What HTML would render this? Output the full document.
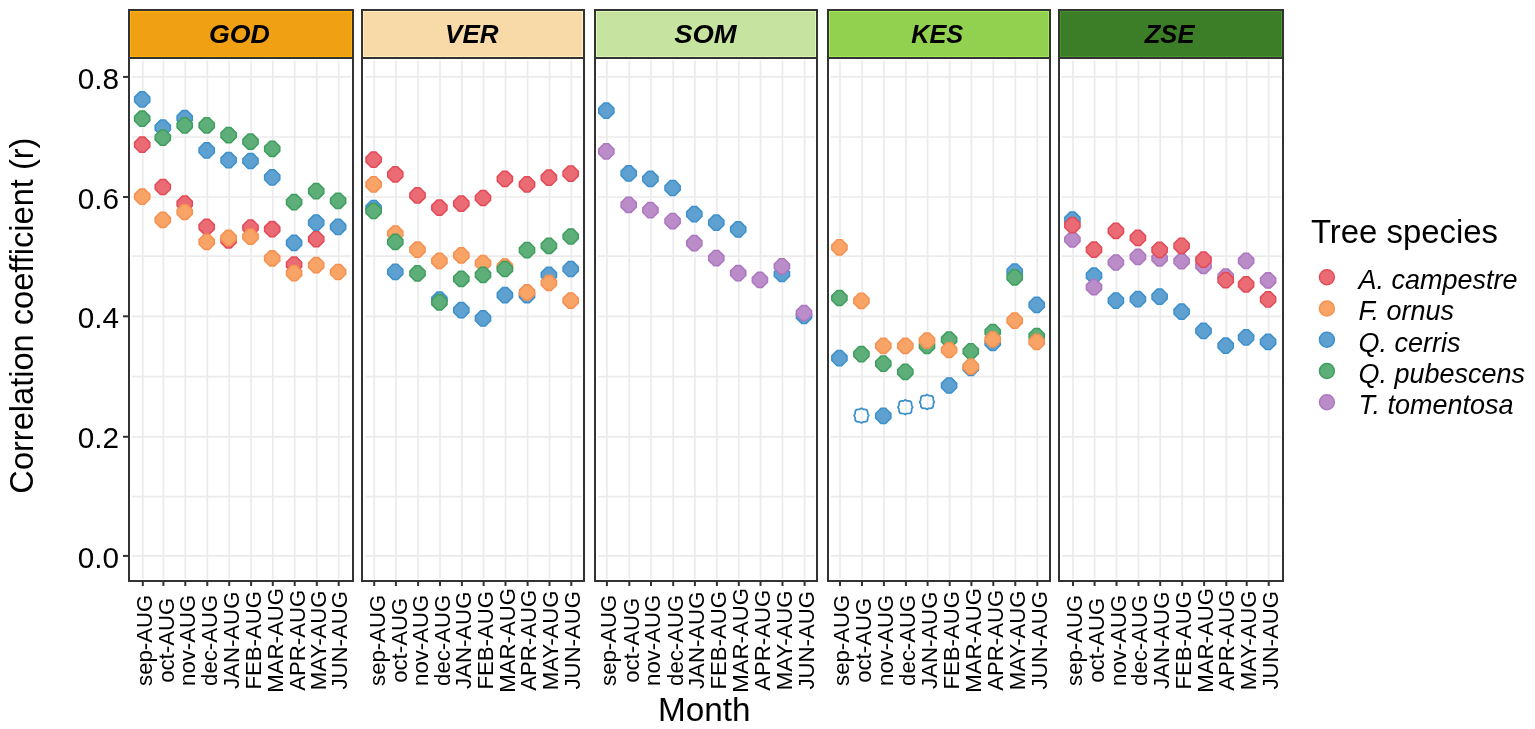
<!DOCTYPE html>
<html><head><meta charset="utf-8"><title>Correlation coefficient by month</title>
<style>html,body{margin:0;padding:0;background:#fff;}body{width:1535px;height:729px;overflow:hidden;}svg{display:block;}text{font-family:"Liberation Sans", Arial, sans-serif;}</style></head><body>
<svg width="1535" height="729" viewBox="0 0 1535 729">
<rect x="0" y="0" width="1535" height="729" fill="#fff"/>
<line x1="132.0" y1="555.90" x2="351.0" y2="555.90" stroke="#EBEBEB" stroke-width="1.7"/>
<line x1="132.0" y1="496.70" x2="351.0" y2="496.70" stroke="#EBEBEB" stroke-width="1.7"/>
<line x1="132.0" y1="436.80" x2="351.0" y2="436.80" stroke="#EBEBEB" stroke-width="1.7"/>
<line x1="132.0" y1="376.60" x2="351.0" y2="376.60" stroke="#EBEBEB" stroke-width="1.7"/>
<line x1="132.0" y1="316.30" x2="351.0" y2="316.30" stroke="#EBEBEB" stroke-width="1.7"/>
<line x1="132.0" y1="256.10" x2="351.0" y2="256.10" stroke="#EBEBEB" stroke-width="1.7"/>
<line x1="132.0" y1="197.00" x2="351.0" y2="197.00" stroke="#EBEBEB" stroke-width="1.7"/>
<line x1="132.0" y1="137.00" x2="351.0" y2="137.00" stroke="#EBEBEB" stroke-width="1.7"/>
<line x1="132.0" y1="76.90" x2="351.0" y2="76.90" stroke="#EBEBEB" stroke-width="1.7"/>
<line x1="142.80" y1="60.5" x2="142.80" y2="579.0" stroke="#EBEBEB" stroke-width="1.7"/>
<line x1="163.40" y1="60.5" x2="163.40" y2="579.0" stroke="#EBEBEB" stroke-width="1.7"/>
<line x1="185.30" y1="60.5" x2="185.30" y2="579.0" stroke="#EBEBEB" stroke-width="1.7"/>
<line x1="207.30" y1="60.5" x2="207.30" y2="579.0" stroke="#EBEBEB" stroke-width="1.7"/>
<line x1="229.20" y1="60.5" x2="229.20" y2="579.0" stroke="#EBEBEB" stroke-width="1.7"/>
<line x1="251.10" y1="60.5" x2="251.10" y2="579.0" stroke="#EBEBEB" stroke-width="1.7"/>
<line x1="272.80" y1="60.5" x2="272.80" y2="579.0" stroke="#EBEBEB" stroke-width="1.7"/>
<line x1="294.70" y1="60.5" x2="294.70" y2="579.0" stroke="#EBEBEB" stroke-width="1.7"/>
<line x1="316.80" y1="60.5" x2="316.80" y2="579.0" stroke="#EBEBEB" stroke-width="1.7"/>
<line x1="338.70" y1="60.5" x2="338.70" y2="579.0" stroke="#EBEBEB" stroke-width="1.7"/>
<polygon points="144.48,137.10 149.80,142.42 149.80,146.98 144.48,152.30 139.92,152.30 134.60,146.98 134.60,142.42 139.92,137.10" fill="#EA6B74" stroke="#E34A57" stroke-width="1.50"/>
<polygon points="165.08,179.40 170.40,184.72 170.40,189.28 165.08,194.60 160.52,194.60 155.20,189.28 155.20,184.72 160.52,179.40" fill="#EA6B74" stroke="#E34A57" stroke-width="1.50"/>
<polygon points="186.98,196.10 192.30,201.42 192.30,205.98 186.98,211.30 182.42,211.30 177.10,205.98 177.10,201.42 182.42,196.10" fill="#EA6B74" stroke="#E34A57" stroke-width="1.50"/>
<polygon points="208.98,219.20 214.30,224.52 214.30,229.08 208.98,234.40 204.42,234.40 199.10,229.08 199.10,224.52 204.42,219.20" fill="#EA6B74" stroke="#E34A57" stroke-width="1.50"/>
<polygon points="230.88,232.80 236.20,238.12 236.20,242.68 230.88,248.00 226.32,248.00 221.00,242.68 221.00,238.12 226.32,232.80" fill="#EA6B74" stroke="#E34A57" stroke-width="1.50"/>
<polygon points="252.78,220.00 258.10,225.32 258.10,229.88 252.78,235.20 248.22,235.20 242.90,229.88 242.90,225.32 248.22,220.00" fill="#EA6B74" stroke="#E34A57" stroke-width="1.50"/>
<polygon points="274.48,221.60 279.80,226.92 279.80,231.48 274.48,236.80 269.92,236.80 264.60,231.48 264.60,226.92 269.92,221.60" fill="#EA6B74" stroke="#E34A57" stroke-width="1.50"/>
<polygon points="296.38,257.00 301.70,262.32 301.70,266.88 296.38,272.20 291.82,272.20 286.50,266.88 286.50,262.32 291.82,257.00" fill="#EA6B74" stroke="#E34A57" stroke-width="1.50"/>
<polygon points="318.48,231.50 323.80,236.82 323.80,241.38 318.48,246.70 313.92,246.70 308.60,241.38 308.60,236.82 313.92,231.50" fill="#EA6B74" stroke="#E34A57" stroke-width="1.50"/>
<polygon points="144.48,189.10 149.80,194.42 149.80,198.98 144.48,204.30 139.92,204.30 134.60,198.98 134.60,194.42 139.92,189.10" fill="#F8A467" stroke="#F59050" stroke-width="1.50"/>
<polygon points="165.08,212.30 170.40,217.62 170.40,222.18 165.08,227.50 160.52,227.50 155.20,222.18 155.20,217.62 160.52,212.30" fill="#F8A467" stroke="#F59050" stroke-width="1.50"/>
<polygon points="186.98,204.40 192.30,209.72 192.30,214.28 186.98,219.60 182.42,219.60 177.10,214.28 177.10,209.72 182.42,204.40" fill="#F8A467" stroke="#F59050" stroke-width="1.50"/>
<polygon points="208.98,234.30 214.30,239.62 214.30,244.18 208.98,249.50 204.42,249.50 199.10,244.18 199.10,239.62 204.42,234.30" fill="#F8A467" stroke="#F59050" stroke-width="1.50"/>
<polygon points="230.88,230.20 236.20,235.52 236.20,240.08 230.88,245.40 226.32,245.40 221.00,240.08 221.00,235.52 226.32,230.20" fill="#F8A467" stroke="#F59050" stroke-width="1.50"/>
<polygon points="252.78,229.10 258.10,234.42 258.10,238.98 252.78,244.30 248.22,244.30 242.90,238.98 242.90,234.42 248.22,229.10" fill="#F8A467" stroke="#F59050" stroke-width="1.50"/>
<polygon points="274.48,250.80 279.80,256.12 279.80,260.68 274.48,266.00 269.92,266.00 264.60,260.68 264.60,256.12 269.92,250.80" fill="#F8A467" stroke="#F59050" stroke-width="1.50"/>
<polygon points="296.38,265.60 301.70,270.92 301.70,275.48 296.38,280.80 291.82,280.80 286.50,275.48 286.50,270.92 291.82,265.60" fill="#F8A467" stroke="#F59050" stroke-width="1.50"/>
<polygon points="318.48,257.50 323.80,262.82 323.80,267.38 318.48,272.70 313.92,272.70 308.60,267.38 308.60,262.82 313.92,257.50" fill="#F8A467" stroke="#F59050" stroke-width="1.50"/>
<polygon points="340.38,264.40 345.70,269.72 345.70,274.28 340.38,279.60 335.82,279.60 330.50,274.28 330.50,269.72 335.82,264.40" fill="#F8A467" stroke="#F59050" stroke-width="1.50"/>
<polygon points="144.48,91.80 149.80,97.12 149.80,101.68 144.48,107.00 139.92,107.00 134.60,101.68 134.60,97.12 139.92,91.80" fill="#5EA1D0" stroke="#3D90CC" stroke-width="1.50"/>
<polygon points="165.08,120.10 170.40,125.42 170.40,129.98 165.08,135.30 160.52,135.30 155.20,129.98 155.20,125.42 160.52,120.10" fill="#5EA1D0" stroke="#3D90CC" stroke-width="1.50"/>
<polygon points="186.98,110.60 192.30,115.92 192.30,120.48 186.98,125.80 182.42,125.80 177.10,120.48 177.10,115.92 182.42,110.60" fill="#5EA1D0" stroke="#3D90CC" stroke-width="1.50"/>
<polygon points="208.98,142.80 214.30,148.12 214.30,152.68 208.98,158.00 204.42,158.00 199.10,152.68 199.10,148.12 204.42,142.80" fill="#5EA1D0" stroke="#3D90CC" stroke-width="1.50"/>
<polygon points="230.88,152.60 236.20,157.92 236.20,162.48 230.88,167.80 226.32,167.80 221.00,162.48 221.00,157.92 226.32,152.60" fill="#5EA1D0" stroke="#3D90CC" stroke-width="1.50"/>
<polygon points="252.78,153.40 258.10,158.72 258.10,163.28 252.78,168.60 248.22,168.60 242.90,163.28 242.90,158.72 248.22,153.40" fill="#5EA1D0" stroke="#3D90CC" stroke-width="1.50"/>
<polygon points="274.48,169.80 279.80,175.12 279.80,179.68 274.48,185.00 269.92,185.00 264.60,179.68 264.60,175.12 269.92,169.80" fill="#5EA1D0" stroke="#3D90CC" stroke-width="1.50"/>
<polygon points="296.38,235.30 301.70,240.62 301.70,245.18 296.38,250.50 291.82,250.50 286.50,245.18 286.50,240.62 291.82,235.30" fill="#5EA1D0" stroke="#3D90CC" stroke-width="1.50"/>
<polygon points="318.48,215.10 323.80,220.42 323.80,224.98 318.48,230.30 313.92,230.30 308.60,224.98 308.60,220.42 313.92,215.10" fill="#5EA1D0" stroke="#3D90CC" stroke-width="1.50"/>
<polygon points="340.38,219.20 345.70,224.52 345.70,229.08 340.38,234.40 335.82,234.40 330.50,229.08 330.50,224.52 335.82,219.20" fill="#5EA1D0" stroke="#3D90CC" stroke-width="1.50"/>
<polygon points="144.48,111.10 149.80,116.42 149.80,120.98 144.48,126.30 139.92,126.30 134.60,120.98 134.60,116.42 139.92,111.10" fill="#5DAE78" stroke="#3E9E5E" stroke-width="1.50"/>
<polygon points="165.08,130.00 170.40,135.32 170.40,139.88 165.08,145.20 160.52,145.20 155.20,139.88 155.20,135.32 160.52,130.00" fill="#5DAE78" stroke="#3E9E5E" stroke-width="1.50"/>
<polygon points="186.98,117.70 192.30,123.02 192.30,127.58 186.98,132.90 182.42,132.90 177.10,127.58 177.10,123.02 182.42,117.70" fill="#5DAE78" stroke="#3E9E5E" stroke-width="1.50"/>
<polygon points="208.98,117.70 214.30,123.02 214.30,127.58 208.98,132.90 204.42,132.90 199.10,127.58 199.10,123.02 204.42,117.70" fill="#5DAE78" stroke="#3E9E5E" stroke-width="1.50"/>
<polygon points="230.88,127.50 236.20,132.82 236.20,137.38 230.88,142.70 226.32,142.70 221.00,137.38 221.00,132.82 226.32,127.50" fill="#5DAE78" stroke="#3E9E5E" stroke-width="1.50"/>
<polygon points="252.78,134.10 258.10,139.42 258.10,143.98 252.78,149.30 248.22,149.30 242.90,143.98 242.90,139.42 248.22,134.10" fill="#5DAE78" stroke="#3E9E5E" stroke-width="1.50"/>
<polygon points="274.48,141.20 279.80,146.52 279.80,151.08 274.48,156.40 269.92,156.40 264.60,151.08 264.60,146.52 269.92,141.20" fill="#5DAE78" stroke="#3E9E5E" stroke-width="1.50"/>
<polygon points="296.38,194.50 301.70,199.82 301.70,204.38 296.38,209.70 291.82,209.70 286.50,204.38 286.50,199.82 291.82,194.50" fill="#5DAE78" stroke="#3E9E5E" stroke-width="1.50"/>
<polygon points="318.48,183.50 323.80,188.82 323.80,193.38 318.48,198.70 313.92,198.70 308.60,193.38 308.60,188.82 313.92,183.50" fill="#5DAE78" stroke="#3E9E5E" stroke-width="1.50"/>
<polygon points="340.38,193.20 345.70,198.52 345.70,203.08 340.38,208.40 335.82,208.40 330.50,203.08 330.50,198.52 335.82,193.20" fill="#5DAE78" stroke="#3E9E5E" stroke-width="1.50"/>
<rect x="129.0" y="58.0" width="224.0" height="523.0" fill="none" stroke="#333333" stroke-width="2"/>
<rect x="129.0" y="10.0" width="224.0" height="48.0" fill="#F0A113" stroke="#333333" stroke-width="2"/>
<rect x="130.5" y="11.5" width="221.0" height="45.0" fill="none" stroke="#FFB60A" stroke-width="1" opacity="0.8"/>
<text transform="translate(239.40,42.8) scale(1.030,1)" text-anchor="middle" font-size="26" font-weight="bold" font-style="italic" fill="#000">GOD</text>
<line x1="142.80" y1="581.0" x2="142.80" y2="586.0" stroke="#333333" stroke-width="2"/>
<text transform="translate(151.70,640.3) rotate(-90) scale(1,1.035)" text-anchor="middle" font-size="22.2" fill="#000">sep-AUG</text>
<line x1="163.40" y1="581.0" x2="163.40" y2="586.0" stroke="#333333" stroke-width="2"/>
<text transform="translate(173.50,640.3) rotate(-90) scale(1,1.035)" text-anchor="middle" font-size="22.2" fill="#000">oct-AUG</text>
<line x1="185.30" y1="581.0" x2="185.30" y2="586.0" stroke="#333333" stroke-width="2"/>
<text transform="translate(195.20,640.3) rotate(-90) scale(1,1.035)" text-anchor="middle" font-size="22.2" fill="#000">nov-AUG</text>
<line x1="207.30" y1="581.0" x2="207.30" y2="586.0" stroke="#333333" stroke-width="2"/>
<text transform="translate(217.20,640.3) rotate(-90) scale(1,1.035)" text-anchor="middle" font-size="22.2" fill="#000">dec-AUG</text>
<line x1="229.20" y1="581.0" x2="229.20" y2="586.0" stroke="#333333" stroke-width="2"/>
<text transform="translate(238.90,640.3) rotate(-90) scale(1,1.035)" text-anchor="middle" font-size="22.2" fill="#000">JAN-AUG</text>
<line x1="251.10" y1="581.0" x2="251.10" y2="586.0" stroke="#333333" stroke-width="2"/>
<text transform="translate(260.70,640.3) rotate(-90) scale(1,1.035)" text-anchor="middle" font-size="22.2" fill="#000">FEB-AUG</text>
<line x1="272.80" y1="581.0" x2="272.80" y2="586.0" stroke="#333333" stroke-width="2"/>
<text transform="translate(282.50,640.3) rotate(-90) scale(1,1.035)" text-anchor="middle" font-size="22.2" fill="#000">MAR-AUG</text>
<line x1="294.70" y1="581.0" x2="294.70" y2="586.0" stroke="#333333" stroke-width="2"/>
<text transform="translate(304.60,640.3) rotate(-90) scale(1,1.035)" text-anchor="middle" font-size="22.2" fill="#000">APR-AUG</text>
<line x1="316.80" y1="581.0" x2="316.80" y2="586.0" stroke="#333333" stroke-width="2"/>
<text transform="translate(326.30,640.3) rotate(-90) scale(1,1.035)" text-anchor="middle" font-size="22.2" fill="#000">MAY-AUG</text>
<line x1="338.70" y1="581.0" x2="338.70" y2="586.0" stroke="#333333" stroke-width="2"/>
<text transform="translate(347.30,640.3) rotate(-90) scale(1,1.035)" text-anchor="middle" font-size="22.2" fill="#000">JUN-AUG</text>
<line x1="365.0" y1="555.90" x2="582.0" y2="555.90" stroke="#EBEBEB" stroke-width="1.7"/>
<line x1="365.0" y1="496.70" x2="582.0" y2="496.70" stroke="#EBEBEB" stroke-width="1.7"/>
<line x1="365.0" y1="436.80" x2="582.0" y2="436.80" stroke="#EBEBEB" stroke-width="1.7"/>
<line x1="365.0" y1="376.60" x2="582.0" y2="376.60" stroke="#EBEBEB" stroke-width="1.7"/>
<line x1="365.0" y1="316.30" x2="582.0" y2="316.30" stroke="#EBEBEB" stroke-width="1.7"/>
<line x1="365.0" y1="256.10" x2="582.0" y2="256.10" stroke="#EBEBEB" stroke-width="1.7"/>
<line x1="365.0" y1="197.00" x2="582.0" y2="197.00" stroke="#EBEBEB" stroke-width="1.7"/>
<line x1="365.0" y1="137.00" x2="582.0" y2="137.00" stroke="#EBEBEB" stroke-width="1.7"/>
<line x1="365.0" y1="76.90" x2="582.0" y2="76.90" stroke="#EBEBEB" stroke-width="1.7"/>
<line x1="374.20" y1="60.5" x2="374.20" y2="579.0" stroke="#EBEBEB" stroke-width="1.7"/>
<line x1="395.90" y1="60.5" x2="395.90" y2="579.0" stroke="#EBEBEB" stroke-width="1.7"/>
<line x1="418.10" y1="60.5" x2="418.10" y2="579.0" stroke="#EBEBEB" stroke-width="1.7"/>
<line x1="440.00" y1="60.5" x2="440.00" y2="579.0" stroke="#EBEBEB" stroke-width="1.7"/>
<line x1="461.90" y1="60.5" x2="461.90" y2="579.0" stroke="#EBEBEB" stroke-width="1.7"/>
<line x1="483.60" y1="60.5" x2="483.60" y2="579.0" stroke="#EBEBEB" stroke-width="1.7"/>
<line x1="505.50" y1="60.5" x2="505.50" y2="579.0" stroke="#EBEBEB" stroke-width="1.7"/>
<line x1="527.60" y1="60.5" x2="527.60" y2="579.0" stroke="#EBEBEB" stroke-width="1.7"/>
<line x1="549.50" y1="60.5" x2="549.50" y2="579.0" stroke="#EBEBEB" stroke-width="1.7"/>
<line x1="571.30" y1="60.5" x2="571.30" y2="579.0" stroke="#EBEBEB" stroke-width="1.7"/>
<polygon points="375.88,152.00 381.20,157.32 381.20,161.88 375.88,167.20 371.32,167.20 366.00,161.88 366.00,157.32 371.32,152.00" fill="#EA6B74" stroke="#E34A57" stroke-width="1.50"/>
<polygon points="397.58,166.80 402.90,172.12 402.90,176.68 397.58,182.00 393.02,182.00 387.70,176.68 387.70,172.12 393.02,166.80" fill="#EA6B74" stroke="#E34A57" stroke-width="1.50"/>
<polygon points="419.78,187.70 425.10,193.02 425.10,197.58 419.78,202.90 415.22,202.90 409.90,197.58 409.90,193.02 415.22,187.70" fill="#EA6B74" stroke="#E34A57" stroke-width="1.50"/>
<polygon points="441.68,200.10 447.00,205.42 447.00,209.98 441.68,215.30 437.12,215.30 431.80,209.98 431.80,205.42 437.12,200.10" fill="#EA6B74" stroke="#E34A57" stroke-width="1.50"/>
<polygon points="463.58,196.00 468.90,201.32 468.90,205.88 463.58,211.20 459.02,211.20 453.70,205.88 453.70,201.32 459.02,196.00" fill="#EA6B74" stroke="#E34A57" stroke-width="1.50"/>
<polygon points="485.28,190.40 490.60,195.72 490.60,200.28 485.28,205.60 480.72,205.60 475.40,200.28 475.40,195.72 480.72,190.40" fill="#EA6B74" stroke="#E34A57" stroke-width="1.50"/>
<polygon points="507.18,171.30 512.50,176.62 512.50,181.18 507.18,186.50 502.62,186.50 497.30,181.18 497.30,176.62 502.62,171.30" fill="#EA6B74" stroke="#E34A57" stroke-width="1.50"/>
<polygon points="529.28,176.70 534.60,182.02 534.60,186.58 529.28,191.90 524.72,191.90 519.40,186.58 519.40,182.02 524.72,176.70" fill="#EA6B74" stroke="#E34A57" stroke-width="1.50"/>
<polygon points="551.18,170.10 556.50,175.42 556.50,179.98 551.18,185.30 546.62,185.30 541.30,179.98 541.30,175.42 546.62,170.10" fill="#EA6B74" stroke="#E34A57" stroke-width="1.50"/>
<polygon points="572.98,166.00 578.30,171.32 578.30,175.88 572.98,181.20 568.42,181.20 563.10,175.88 563.10,171.32 568.42,166.00" fill="#EA6B74" stroke="#E34A57" stroke-width="1.50"/>
<polygon points="375.88,200.40 381.20,205.72 381.20,210.28 375.88,215.60 371.32,215.60 366.00,210.28 366.00,205.72 371.32,200.40" fill="#5EA1D0" stroke="#3D90CC" stroke-width="1.50"/>
<polygon points="397.58,264.20 402.90,269.52 402.90,274.08 397.58,279.40 393.02,279.40 387.70,274.08 387.70,269.52 393.02,264.20" fill="#5EA1D0" stroke="#3D90CC" stroke-width="1.50"/>
<polygon points="441.68,291.90 447.00,297.22 447.00,301.78 441.68,307.10 437.12,307.10 431.80,301.78 431.80,297.22 437.12,291.90" fill="#5EA1D0" stroke="#3D90CC" stroke-width="1.50"/>
<polygon points="463.58,302.60 468.90,307.92 468.90,312.48 463.58,317.80 459.02,317.80 453.70,312.48 453.70,307.92 459.02,302.60" fill="#5EA1D0" stroke="#3D90CC" stroke-width="1.50"/>
<polygon points="485.28,310.80 490.60,316.12 490.60,320.68 485.28,326.00 480.72,326.00 475.40,320.68 475.40,316.12 480.72,310.80" fill="#5EA1D0" stroke="#3D90CC" stroke-width="1.50"/>
<polygon points="507.18,287.60 512.50,292.92 512.50,297.48 507.18,302.80 502.62,302.80 497.30,297.48 497.30,292.92 502.62,287.60" fill="#5EA1D0" stroke="#3D90CC" stroke-width="1.50"/>
<polygon points="529.28,287.60 534.60,292.92 534.60,297.48 529.28,302.80 524.72,302.80 519.40,297.48 519.40,292.92 524.72,287.60" fill="#5EA1D0" stroke="#3D90CC" stroke-width="1.50"/>
<polygon points="551.18,267.20 556.50,272.52 556.50,277.08 551.18,282.40 546.62,282.40 541.30,277.08 541.30,272.52 546.62,267.20" fill="#5EA1D0" stroke="#3D90CC" stroke-width="1.50"/>
<polygon points="572.98,261.40 578.30,266.72 578.30,271.28 572.98,276.60 568.42,276.60 563.10,271.28 563.10,266.72 568.42,261.40" fill="#5EA1D0" stroke="#3D90CC" stroke-width="1.50"/>
<polygon points="375.88,176.70 381.20,182.02 381.20,186.58 375.88,191.90 371.32,191.90 366.00,186.58 366.00,182.02 371.32,176.70" fill="#F8A467" stroke="#F59050" stroke-width="1.50"/>
<polygon points="397.58,225.90 402.90,231.22 402.90,235.78 397.58,241.10 393.02,241.10 387.70,235.78 387.70,231.22 393.02,225.90" fill="#F8A467" stroke="#F59050" stroke-width="1.50"/>
<polygon points="419.78,242.00 425.10,247.32 425.10,251.88 419.78,257.20 415.22,257.20 409.90,251.88 409.90,247.32 415.22,242.00" fill="#F8A467" stroke="#F59050" stroke-width="1.50"/>
<polygon points="441.68,253.20 447.00,258.52 447.00,263.08 441.68,268.40 437.12,268.40 431.80,263.08 431.80,258.52 437.12,253.20" fill="#F8A467" stroke="#F59050" stroke-width="1.50"/>
<polygon points="463.58,247.80 468.90,253.12 468.90,257.68 463.58,263.00 459.02,263.00 453.70,257.68 453.70,253.12 459.02,247.80" fill="#F8A467" stroke="#F59050" stroke-width="1.50"/>
<polygon points="485.28,255.50 490.60,260.82 490.60,265.38 485.28,270.70 480.72,270.70 475.40,265.38 475.40,260.82 480.72,255.50" fill="#F8A467" stroke="#F59050" stroke-width="1.50"/>
<polygon points="507.18,259.00 512.50,264.32 512.50,268.88 507.18,274.20 502.62,274.20 497.30,268.88 497.30,264.32 502.62,259.00" fill="#F8A467" stroke="#F59050" stroke-width="1.50"/>
<polygon points="529.28,284.80 534.60,290.12 534.60,294.68 529.28,300.00 524.72,300.00 519.40,294.68 519.40,290.12 524.72,284.80" fill="#F8A467" stroke="#F59050" stroke-width="1.50"/>
<polygon points="551.18,275.30 556.50,280.62 556.50,285.18 551.18,290.50 546.62,290.50 541.30,285.18 541.30,280.62 546.62,275.30" fill="#F8A467" stroke="#F59050" stroke-width="1.50"/>
<polygon points="572.98,293.00 578.30,298.32 578.30,302.88 572.98,308.20 568.42,308.20 563.10,302.88 563.10,298.32 568.42,293.00" fill="#F8A467" stroke="#F59050" stroke-width="1.50"/>
<polygon points="375.88,203.40 381.20,208.72 381.20,213.28 375.88,218.60 371.32,218.60 366.00,213.28 366.00,208.72 371.32,203.40" fill="#5DAE78" stroke="#3E9E5E" stroke-width="1.50"/>
<polygon points="397.58,234.30 402.90,239.62 402.90,244.18 397.58,249.50 393.02,249.50 387.70,244.18 387.70,239.62 393.02,234.30" fill="#5DAE78" stroke="#3E9E5E" stroke-width="1.50"/>
<polygon points="419.78,265.80 425.10,271.12 425.10,275.68 419.78,281.00 415.22,281.00 409.90,275.68 409.90,271.12 415.22,265.80" fill="#5DAE78" stroke="#3E9E5E" stroke-width="1.50"/>
<polygon points="441.68,294.70 447.00,300.02 447.00,304.58 441.68,309.90 437.12,309.90 431.80,304.58 431.80,300.02 437.12,294.70" fill="#5DAE78" stroke="#3E9E5E" stroke-width="1.50"/>
<polygon points="463.58,271.20 468.90,276.52 468.90,281.08 463.58,286.40 459.02,286.40 453.70,281.08 453.70,276.52 459.02,271.20" fill="#5DAE78" stroke="#3E9E5E" stroke-width="1.50"/>
<polygon points="485.28,267.20 490.60,272.52 490.60,277.08 485.28,282.40 480.72,282.40 475.40,277.08 475.40,272.52 480.72,267.20" fill="#5DAE78" stroke="#3E9E5E" stroke-width="1.50"/>
<polygon points="507.18,261.40 512.50,266.72 512.50,271.28 507.18,276.60 502.62,276.60 497.30,271.28 497.30,266.72 502.62,261.40" fill="#5DAE78" stroke="#3E9E5E" stroke-width="1.50"/>
<polygon points="529.28,242.50 534.60,247.82 534.60,252.38 529.28,257.70 524.72,257.70 519.40,252.38 519.40,247.82 524.72,242.50" fill="#5DAE78" stroke="#3E9E5E" stroke-width="1.50"/>
<polygon points="551.18,238.20 556.50,243.52 556.50,248.08 551.18,253.40 546.62,253.40 541.30,248.08 541.30,243.52 546.62,238.20" fill="#5DAE78" stroke="#3E9E5E" stroke-width="1.50"/>
<polygon points="572.98,228.90 578.30,234.22 578.30,238.78 572.98,244.10 568.42,244.10 563.10,238.78 563.10,234.22 568.42,228.90" fill="#5DAE78" stroke="#3E9E5E" stroke-width="1.50"/>
<rect x="362.0" y="58.0" width="222.0" height="523.0" fill="none" stroke="#333333" stroke-width="2"/>
<rect x="362.0" y="10.0" width="222.0" height="48.0" fill="#F8DAA8" stroke="#333333" stroke-width="2"/>
<rect x="363.5" y="11.5" width="219.0" height="45.0" fill="none" stroke="#FFF4C0" stroke-width="1" opacity="0.8"/>
<text transform="translate(471.80,42.8) scale(1.000,1)" text-anchor="middle" font-size="26" font-weight="bold" font-style="italic" fill="#000">VER</text>
<line x1="374.20" y1="581.0" x2="374.20" y2="586.0" stroke="#333333" stroke-width="2"/>
<text transform="translate(384.80,640.3) rotate(-90) scale(1,1.035)" text-anchor="middle" font-size="22.2" fill="#000">sep-AUG</text>
<line x1="395.90" y1="581.0" x2="395.90" y2="586.0" stroke="#333333" stroke-width="2"/>
<text transform="translate(406.50,640.3) rotate(-90) scale(1,1.035)" text-anchor="middle" font-size="22.2" fill="#000">oct-AUG</text>
<line x1="418.10" y1="581.0" x2="418.10" y2="586.0" stroke="#333333" stroke-width="2"/>
<text transform="translate(427.90,640.3) rotate(-90) scale(1,1.035)" text-anchor="middle" font-size="22.2" fill="#000">nov-AUG</text>
<line x1="440.00" y1="581.0" x2="440.00" y2="586.0" stroke="#333333" stroke-width="2"/>
<text transform="translate(449.70,640.3) rotate(-90) scale(1,1.035)" text-anchor="middle" font-size="22.2" fill="#000">dec-AUG</text>
<line x1="461.90" y1="581.0" x2="461.90" y2="586.0" stroke="#333333" stroke-width="2"/>
<text transform="translate(471.40,640.3) rotate(-90) scale(1,1.035)" text-anchor="middle" font-size="22.2" fill="#000">JAN-AUG</text>
<line x1="483.60" y1="581.0" x2="483.60" y2="586.0" stroke="#333333" stroke-width="2"/>
<text transform="translate(493.40,640.3) rotate(-90) scale(1,1.035)" text-anchor="middle" font-size="22.2" fill="#000">FEB-AUG</text>
<line x1="505.50" y1="581.0" x2="505.50" y2="586.0" stroke="#333333" stroke-width="2"/>
<text transform="translate(514.80,640.3) rotate(-90) scale(1,1.035)" text-anchor="middle" font-size="22.2" fill="#000">MAR-AUG</text>
<line x1="527.60" y1="581.0" x2="527.60" y2="586.0" stroke="#333333" stroke-width="2"/>
<text transform="translate(536.30,640.3) rotate(-90) scale(1,1.035)" text-anchor="middle" font-size="22.2" fill="#000">APR-AUG</text>
<line x1="549.50" y1="581.0" x2="549.50" y2="586.0" stroke="#333333" stroke-width="2"/>
<text transform="translate(558.30,640.3) rotate(-90) scale(1,1.035)" text-anchor="middle" font-size="22.2" fill="#000">MAY-AUG</text>
<line x1="571.30" y1="581.0" x2="571.30" y2="586.0" stroke="#333333" stroke-width="2"/>
<text transform="translate(579.60,640.3) rotate(-90) scale(1,1.035)" text-anchor="middle" font-size="22.2" fill="#000">JUN-AUG</text>
<line x1="598.0" y1="555.90" x2="815.0" y2="555.90" stroke="#EBEBEB" stroke-width="1.7"/>
<line x1="598.0" y1="496.70" x2="815.0" y2="496.70" stroke="#EBEBEB" stroke-width="1.7"/>
<line x1="598.0" y1="436.80" x2="815.0" y2="436.80" stroke="#EBEBEB" stroke-width="1.7"/>
<line x1="598.0" y1="376.60" x2="815.0" y2="376.60" stroke="#EBEBEB" stroke-width="1.7"/>
<line x1="598.0" y1="316.30" x2="815.0" y2="316.30" stroke="#EBEBEB" stroke-width="1.7"/>
<line x1="598.0" y1="256.10" x2="815.0" y2="256.10" stroke="#EBEBEB" stroke-width="1.7"/>
<line x1="598.0" y1="197.00" x2="815.0" y2="197.00" stroke="#EBEBEB" stroke-width="1.7"/>
<line x1="598.0" y1="137.00" x2="815.0" y2="137.00" stroke="#EBEBEB" stroke-width="1.7"/>
<line x1="598.0" y1="76.90" x2="815.0" y2="76.90" stroke="#EBEBEB" stroke-width="1.7"/>
<line x1="606.90" y1="60.5" x2="606.90" y2="579.0" stroke="#EBEBEB" stroke-width="1.7"/>
<line x1="629.30" y1="60.5" x2="629.30" y2="579.0" stroke="#EBEBEB" stroke-width="1.7"/>
<line x1="651.00" y1="60.5" x2="651.00" y2="579.0" stroke="#EBEBEB" stroke-width="1.7"/>
<line x1="673.20" y1="60.5" x2="673.20" y2="579.0" stroke="#EBEBEB" stroke-width="1.7"/>
<line x1="694.90" y1="60.5" x2="694.90" y2="579.0" stroke="#EBEBEB" stroke-width="1.7"/>
<line x1="716.90" y1="60.5" x2="716.90" y2="579.0" stroke="#EBEBEB" stroke-width="1.7"/>
<line x1="738.80" y1="60.5" x2="738.80" y2="579.0" stroke="#EBEBEB" stroke-width="1.7"/>
<line x1="760.50" y1="60.5" x2="760.50" y2="579.0" stroke="#EBEBEB" stroke-width="1.7"/>
<line x1="782.50" y1="60.5" x2="782.50" y2="579.0" stroke="#EBEBEB" stroke-width="1.7"/>
<line x1="804.60" y1="60.5" x2="804.60" y2="579.0" stroke="#EBEBEB" stroke-width="1.7"/>
<polygon points="608.58,103.00 613.90,108.32 613.90,112.88 608.58,118.20 604.02,118.20 598.70,112.88 598.70,108.32 604.02,103.00" fill="#5EA1D0" stroke="#3D90CC" stroke-width="1.50"/>
<polygon points="630.98,165.80 636.30,171.12 636.30,175.68 630.98,181.00 626.42,181.00 621.10,175.68 621.10,171.12 626.42,165.80" fill="#5EA1D0" stroke="#3D90CC" stroke-width="1.50"/>
<polygon points="652.68,171.30 658.00,176.62 658.00,181.18 652.68,186.50 648.12,186.50 642.80,181.18 642.80,176.62 648.12,171.30" fill="#5EA1D0" stroke="#3D90CC" stroke-width="1.50"/>
<polygon points="674.88,180.40 680.20,185.72 680.20,190.28 674.88,195.60 670.32,195.60 665.00,190.28 665.00,185.72 670.32,180.40" fill="#5EA1D0" stroke="#3D90CC" stroke-width="1.50"/>
<polygon points="696.58,206.60 701.90,211.92 701.90,216.48 696.58,221.80 692.02,221.80 686.70,216.48 686.70,211.92 692.02,206.60" fill="#5EA1D0" stroke="#3D90CC" stroke-width="1.50"/>
<polygon points="718.58,215.10 723.90,220.42 723.90,224.98 718.58,230.30 714.02,230.30 708.70,224.98 708.70,220.42 714.02,215.10" fill="#5EA1D0" stroke="#3D90CC" stroke-width="1.50"/>
<polygon points="740.48,221.80 745.80,227.12 745.80,231.68 740.48,237.00 735.92,237.00 730.60,231.68 730.60,227.12 735.92,221.80" fill="#5EA1D0" stroke="#3D90CC" stroke-width="1.50"/>
<polygon points="784.18,266.40 789.50,271.72 789.50,276.28 784.18,281.60 779.62,281.60 774.30,276.28 774.30,271.72 779.62,266.40" fill="#5EA1D0" stroke="#3D90CC" stroke-width="1.50"/>
<polygon points="806.28,308.20 811.60,313.52 811.60,318.08 806.28,323.40 801.72,323.40 796.40,318.08 796.40,313.52 801.72,308.20" fill="#5EA1D0" stroke="#3D90CC" stroke-width="1.50"/>
<polygon points="608.58,143.80 613.90,149.12 613.90,153.68 608.58,159.00 604.02,159.00 598.70,153.68 598.70,149.12 604.02,143.80" fill="#BA8DC9" stroke="#AC77C0" stroke-width="1.50"/>
<polygon points="630.98,197.20 636.30,202.52 636.30,207.08 630.98,212.40 626.42,212.40 621.10,207.08 621.10,202.52 626.42,197.20" fill="#BA8DC9" stroke="#AC77C0" stroke-width="1.50"/>
<polygon points="652.68,202.60 658.00,207.92 658.00,212.48 652.68,217.80 648.12,217.80 642.80,212.48 642.80,207.92 648.12,202.60" fill="#BA8DC9" stroke="#AC77C0" stroke-width="1.50"/>
<polygon points="674.88,213.50 680.20,218.82 680.20,223.38 674.88,228.70 670.32,228.70 665.00,223.38 665.00,218.82 670.32,213.50" fill="#BA8DC9" stroke="#AC77C0" stroke-width="1.50"/>
<polygon points="696.58,235.60 701.90,240.92 701.90,245.48 696.58,250.80 692.02,250.80 686.70,245.48 686.70,240.92 692.02,235.60" fill="#BA8DC9" stroke="#AC77C0" stroke-width="1.50"/>
<polygon points="718.58,250.60 723.90,255.92 723.90,260.48 718.58,265.80 714.02,265.80 708.70,260.48 708.70,255.92 714.02,250.60" fill="#BA8DC9" stroke="#AC77C0" stroke-width="1.50"/>
<polygon points="740.48,265.60 745.80,270.92 745.80,275.48 740.48,280.80 735.92,280.80 730.60,275.48 730.60,270.92 735.92,265.60" fill="#BA8DC9" stroke="#AC77C0" stroke-width="1.50"/>
<polygon points="762.18,272.30 767.50,277.62 767.50,282.18 762.18,287.50 757.62,287.50 752.30,282.18 752.30,277.62 757.62,272.30" fill="#BA8DC9" stroke="#AC77C0" stroke-width="1.50"/>
<polygon points="784.18,258.70 789.50,264.02 789.50,268.58 784.18,273.90 779.62,273.90 774.30,268.58 774.30,264.02 779.62,258.70" fill="#BA8DC9" stroke="#AC77C0" stroke-width="1.50"/>
<polygon points="806.28,305.40 811.60,310.72 811.60,315.28 806.28,320.60 801.72,320.60 796.40,315.28 796.40,310.72 801.72,305.40" fill="#BA8DC9" stroke="#AC77C0" stroke-width="1.50"/>
<rect x="595.0" y="58.0" width="222.0" height="523.0" fill="none" stroke="#333333" stroke-width="2"/>
<rect x="595.0" y="10.0" width="222.0" height="48.0" fill="#C6E4A0" stroke="#333333" stroke-width="2"/>
<rect x="596.5" y="11.5" width="219.0" height="45.0" fill="none" stroke="#E6FAB8" stroke-width="1" opacity="0.8"/>
<text transform="translate(705.40,42.8) scale(1.055,1)" text-anchor="middle" font-size="26" font-weight="bold" font-style="italic" fill="#000">SOM</text>
<line x1="606.90" y1="581.0" x2="606.90" y2="586.0" stroke="#333333" stroke-width="2"/>
<text transform="translate(616.30,640.3) rotate(-90) scale(1,1.035)" text-anchor="middle" font-size="22.2" fill="#000">sep-AUG</text>
<line x1="629.30" y1="581.0" x2="629.30" y2="586.0" stroke="#333333" stroke-width="2"/>
<text transform="translate(638.70,640.3) rotate(-90) scale(1,1.035)" text-anchor="middle" font-size="22.2" fill="#000">oct-AUG</text>
<line x1="651.00" y1="581.0" x2="651.00" y2="586.0" stroke="#333333" stroke-width="2"/>
<text transform="translate(660.40,640.3) rotate(-90) scale(1,1.035)" text-anchor="middle" font-size="22.2" fill="#000">nov-AUG</text>
<line x1="673.20" y1="581.0" x2="673.20" y2="586.0" stroke="#333333" stroke-width="2"/>
<text transform="translate(682.60,640.3) rotate(-90) scale(1,1.035)" text-anchor="middle" font-size="22.2" fill="#000">dec-AUG</text>
<line x1="694.90" y1="581.0" x2="694.90" y2="586.0" stroke="#333333" stroke-width="2"/>
<text transform="translate(704.30,640.3) rotate(-90) scale(1,1.035)" text-anchor="middle" font-size="22.2" fill="#000">JAN-AUG</text>
<line x1="716.90" y1="581.0" x2="716.90" y2="586.0" stroke="#333333" stroke-width="2"/>
<text transform="translate(726.30,640.3) rotate(-90) scale(1,1.035)" text-anchor="middle" font-size="22.2" fill="#000">FEB-AUG</text>
<line x1="738.80" y1="581.0" x2="738.80" y2="586.0" stroke="#333333" stroke-width="2"/>
<text transform="translate(748.20,640.3) rotate(-90) scale(1,1.035)" text-anchor="middle" font-size="22.2" fill="#000">MAR-AUG</text>
<line x1="760.50" y1="581.0" x2="760.50" y2="586.0" stroke="#333333" stroke-width="2"/>
<text transform="translate(769.90,640.3) rotate(-90) scale(1,1.035)" text-anchor="middle" font-size="22.2" fill="#000">APR-AUG</text>
<line x1="782.50" y1="581.0" x2="782.50" y2="586.0" stroke="#333333" stroke-width="2"/>
<text transform="translate(791.90,640.3) rotate(-90) scale(1,1.035)" text-anchor="middle" font-size="22.2" fill="#000">MAY-AUG</text>
<line x1="804.60" y1="581.0" x2="804.60" y2="586.0" stroke="#333333" stroke-width="2"/>
<text transform="translate(814.00,640.3) rotate(-90) scale(1,1.035)" text-anchor="middle" font-size="22.2" fill="#000">JUN-AUG</text>
<line x1="831.0" y1="555.90" x2="1048.0" y2="555.90" stroke="#EBEBEB" stroke-width="1.7"/>
<line x1="831.0" y1="496.70" x2="1048.0" y2="496.70" stroke="#EBEBEB" stroke-width="1.7"/>
<line x1="831.0" y1="436.80" x2="1048.0" y2="436.80" stroke="#EBEBEB" stroke-width="1.7"/>
<line x1="831.0" y1="376.60" x2="1048.0" y2="376.60" stroke="#EBEBEB" stroke-width="1.7"/>
<line x1="831.0" y1="316.30" x2="1048.0" y2="316.30" stroke="#EBEBEB" stroke-width="1.7"/>
<line x1="831.0" y1="256.10" x2="1048.0" y2="256.10" stroke="#EBEBEB" stroke-width="1.7"/>
<line x1="831.0" y1="197.00" x2="1048.0" y2="197.00" stroke="#EBEBEB" stroke-width="1.7"/>
<line x1="831.0" y1="137.00" x2="1048.0" y2="137.00" stroke="#EBEBEB" stroke-width="1.7"/>
<line x1="831.0" y1="76.90" x2="1048.0" y2="76.90" stroke="#EBEBEB" stroke-width="1.7"/>
<line x1="840.00" y1="60.5" x2="840.00" y2="579.0" stroke="#EBEBEB" stroke-width="1.7"/>
<line x1="862.00" y1="60.5" x2="862.00" y2="579.0" stroke="#EBEBEB" stroke-width="1.7"/>
<line x1="883.90" y1="60.5" x2="883.90" y2="579.0" stroke="#EBEBEB" stroke-width="1.7"/>
<line x1="905.90" y1="60.5" x2="905.90" y2="579.0" stroke="#EBEBEB" stroke-width="1.7"/>
<line x1="927.60" y1="60.5" x2="927.60" y2="579.0" stroke="#EBEBEB" stroke-width="1.7"/>
<line x1="949.70" y1="60.5" x2="949.70" y2="579.0" stroke="#EBEBEB" stroke-width="1.7"/>
<line x1="971.40" y1="60.5" x2="971.40" y2="579.0" stroke="#EBEBEB" stroke-width="1.7"/>
<line x1="993.30" y1="60.5" x2="993.30" y2="579.0" stroke="#EBEBEB" stroke-width="1.7"/>
<line x1="1015.30" y1="60.5" x2="1015.30" y2="579.0" stroke="#EBEBEB" stroke-width="1.7"/>
<line x1="1037.30" y1="60.5" x2="1037.30" y2="579.0" stroke="#EBEBEB" stroke-width="1.7"/>
<polygon points="841.68,350.60 847.00,355.92 847.00,360.48 841.68,365.80 837.12,365.80 831.80,360.48 831.80,355.92 837.12,350.60" fill="#5EA1D0" stroke="#3D90CC" stroke-width="1.50"/>
<path d="M859.60,409.30 L861.40,408.20 L863.20,409.30 L864.60,409.30 Q867.70,409.30 867.70,412.40 L867.70,413.80 L868.80,415.60 L867.70,417.40 L867.70,418.80 Q867.70,421.90 864.60,421.90 L863.20,421.90 L861.40,423.00 L859.60,421.90 L858.20,421.90 Q855.10,421.90 855.10,418.80 L855.10,417.40 L854.00,415.60 L855.10,413.80 L855.10,412.40 Q855.10,409.30 858.20,409.30 Z" fill="none" stroke="#3D90CC" stroke-width="1.7" stroke-linejoin="round"/>
<polygon points="885.58,408.20 890.90,413.52 890.90,418.08 885.58,423.40 881.02,423.40 875.70,418.08 875.70,413.52 881.02,408.20" fill="#5EA1D0" stroke="#3D90CC" stroke-width="1.50"/>
<path d="M903.50,400.90 L905.30,399.80 L907.10,400.90 L908.50,400.90 Q911.60,400.90 911.60,404.00 L911.60,405.40 L912.70,407.20 L911.60,409.00 L911.60,410.40 Q911.60,413.50 908.50,413.50 L907.10,413.50 L905.30,414.60 L903.50,413.50 L902.10,413.50 Q899.00,413.50 899.00,410.40 L899.00,409.00 L897.90,407.20 L899.00,405.40 L899.00,404.00 Q899.00,400.90 902.10,400.90 Z" fill="none" stroke="#3D90CC" stroke-width="1.7" stroke-linejoin="round"/>
<path d="M925.20,395.70 L927.00,394.60 L928.80,395.70 L930.20,395.70 Q933.30,395.70 933.30,398.80 L933.30,400.20 L934.40,402.00 L933.30,403.80 L933.30,405.20 Q933.30,408.30 930.20,408.30 L928.80,408.30 L927.00,409.40 L925.20,408.30 L923.80,408.30 Q920.70,408.30 920.70,405.20 L920.70,403.80 L919.60,402.00 L920.70,400.20 L920.70,398.80 Q920.70,395.70 923.80,395.70 Z" fill="none" stroke="#3D90CC" stroke-width="1.7" stroke-linejoin="round"/>
<polygon points="951.38,377.90 956.70,383.22 956.70,387.78 951.38,393.10 946.82,393.10 941.50,387.78 941.50,383.22 946.82,377.90" fill="#5EA1D0" stroke="#3D90CC" stroke-width="1.50"/>
<polygon points="973.08,360.40 978.40,365.72 978.40,370.28 973.08,375.60 968.52,375.60 963.20,370.28 963.20,365.72 968.52,360.40" fill="#5EA1D0" stroke="#3D90CC" stroke-width="1.50"/>
<polygon points="994.98,335.40 1000.30,340.72 1000.30,345.28 994.98,350.60 990.42,350.60 985.10,345.28 985.10,340.72 990.42,335.40" fill="#5EA1D0" stroke="#3D90CC" stroke-width="1.50"/>
<polygon points="1016.98,264.00 1022.30,269.32 1022.30,273.88 1016.98,279.20 1012.42,279.20 1007.10,273.88 1007.10,269.32 1012.42,264.00" fill="#5EA1D0" stroke="#3D90CC" stroke-width="1.50"/>
<polygon points="1038.98,297.30 1044.30,302.62 1044.30,307.18 1038.98,312.50 1034.42,312.50 1029.10,307.18 1029.10,302.62 1034.42,297.30" fill="#5EA1D0" stroke="#3D90CC" stroke-width="1.50"/>
<polygon points="841.68,290.40 847.00,295.72 847.00,300.28 841.68,305.60 837.12,305.60 831.80,300.28 831.80,295.72 837.12,290.40" fill="#5DAE78" stroke="#3E9E5E" stroke-width="1.50"/>
<polygon points="863.68,346.50 869.00,351.82 869.00,356.38 863.68,361.70 859.12,361.70 853.80,356.38 853.80,351.82 859.12,346.50" fill="#5DAE78" stroke="#3E9E5E" stroke-width="1.50"/>
<polygon points="885.58,356.00 890.90,361.32 890.90,365.88 885.58,371.20 881.02,371.20 875.70,365.88 875.70,361.32 881.02,356.00" fill="#5DAE78" stroke="#3E9E5E" stroke-width="1.50"/>
<polygon points="907.58,364.20 912.90,369.52 912.90,374.08 907.58,379.40 903.02,379.40 897.70,374.08 897.70,369.52 903.02,364.20" fill="#5DAE78" stroke="#3E9E5E" stroke-width="1.50"/>
<polygon points="929.28,338.40 934.60,343.72 934.60,348.28 929.28,353.60 924.72,353.60 919.40,348.28 919.40,343.72 924.72,338.40" fill="#5DAE78" stroke="#3E9E5E" stroke-width="1.50"/>
<polygon points="951.38,332.10 956.70,337.42 956.70,341.98 951.38,347.30 946.82,347.30 941.50,341.98 941.50,337.42 946.82,332.10" fill="#5DAE78" stroke="#3E9E5E" stroke-width="1.50"/>
<polygon points="973.08,343.70 978.40,349.02 978.40,353.58 973.08,358.90 968.52,358.90 963.20,353.58 963.20,349.02 968.52,343.70" fill="#5DAE78" stroke="#3E9E5E" stroke-width="1.50"/>
<polygon points="994.98,324.40 1000.30,329.72 1000.30,334.28 994.98,339.60 990.42,339.60 985.10,334.28 985.10,329.72 990.42,324.40" fill="#5DAE78" stroke="#3E9E5E" stroke-width="1.50"/>
<polygon points="1016.98,269.80 1022.30,275.12 1022.30,279.68 1016.98,285.00 1012.42,285.00 1007.10,279.68 1007.10,275.12 1012.42,269.80" fill="#5DAE78" stroke="#3E9E5E" stroke-width="1.50"/>
<polygon points="1038.98,328.50 1044.30,333.82 1044.30,338.38 1038.98,343.70 1034.42,343.70 1029.10,338.38 1029.10,333.82 1034.42,328.50" fill="#5DAE78" stroke="#3E9E5E" stroke-width="1.50"/>
<polygon points="841.68,239.70 847.00,245.02 847.00,249.58 841.68,254.90 837.12,254.90 831.80,249.58 831.80,245.02 837.12,239.70" fill="#F8A467" stroke="#F59050" stroke-width="1.50"/>
<polygon points="863.68,293.20 869.00,298.52 869.00,303.08 863.68,308.40 859.12,308.40 853.80,303.08 853.80,298.52 859.12,293.20" fill="#F8A467" stroke="#F59050" stroke-width="1.50"/>
<polygon points="885.58,338.20 890.90,343.52 890.90,348.08 885.58,353.40 881.02,353.40 875.70,348.08 875.70,343.52 881.02,338.20" fill="#F8A467" stroke="#F59050" stroke-width="1.50"/>
<polygon points="907.58,338.20 912.90,343.52 912.90,348.08 907.58,353.40 903.02,353.40 897.70,348.08 897.70,343.52 903.02,338.20" fill="#F8A467" stroke="#F59050" stroke-width="1.50"/>
<polygon points="929.28,333.00 934.60,338.32 934.60,342.88 929.28,348.20 924.72,348.20 919.40,342.88 919.40,338.32 924.72,333.00" fill="#F8A467" stroke="#F59050" stroke-width="1.50"/>
<polygon points="951.38,342.40 956.70,347.72 956.70,352.28 951.38,357.60 946.82,357.60 941.50,352.28 941.50,347.72 946.82,342.40" fill="#F8A467" stroke="#F59050" stroke-width="1.50"/>
<polygon points="973.08,359.00 978.40,364.32 978.40,368.88 973.08,374.20 968.52,374.20 963.20,368.88 963.20,364.32 968.52,359.00" fill="#F8A467" stroke="#F59050" stroke-width="1.50"/>
<polygon points="994.98,331.80 1000.30,337.12 1000.30,341.68 994.98,347.00 990.42,347.00 985.10,341.68 985.10,337.12 990.42,331.80" fill="#F8A467" stroke="#F59050" stroke-width="1.50"/>
<polygon points="1016.98,313.00 1022.30,318.32 1022.30,322.88 1016.98,328.20 1012.42,328.20 1007.10,322.88 1007.10,318.32 1012.42,313.00" fill="#F8A467" stroke="#F59050" stroke-width="1.50"/>
<polygon points="1038.98,334.30 1044.30,339.62 1044.30,344.18 1038.98,349.50 1034.42,349.50 1029.10,344.18 1029.10,339.62 1034.42,334.30" fill="#F8A467" stroke="#F59050" stroke-width="1.50"/>
<rect x="828.0" y="58.0" width="222.0" height="523.0" fill="none" stroke="#333333" stroke-width="2"/>
<rect x="828.0" y="10.0" width="222.0" height="48.0" fill="#92D050" stroke="#333333" stroke-width="2"/>
<rect x="829.5" y="11.5" width="219.0" height="45.0" fill="none" stroke="#A6F252" stroke-width="1" opacity="0.8"/>
<text transform="translate(937.20,42.8) scale(0.975,1)" text-anchor="middle" font-size="26" font-weight="bold" font-style="italic" fill="#000">KES</text>
<line x1="840.00" y1="581.0" x2="840.00" y2="586.0" stroke="#333333" stroke-width="2"/>
<text transform="translate(849.40,640.3) rotate(-90) scale(1,1.035)" text-anchor="middle" font-size="22.2" fill="#000">sep-AUG</text>
<line x1="862.00" y1="581.0" x2="862.00" y2="586.0" stroke="#333333" stroke-width="2"/>
<text transform="translate(871.40,640.3) rotate(-90) scale(1,1.035)" text-anchor="middle" font-size="22.2" fill="#000">oct-AUG</text>
<line x1="883.90" y1="581.0" x2="883.90" y2="586.0" stroke="#333333" stroke-width="2"/>
<text transform="translate(893.30,640.3) rotate(-90) scale(1,1.035)" text-anchor="middle" font-size="22.2" fill="#000">nov-AUG</text>
<line x1="905.90" y1="581.0" x2="905.90" y2="586.0" stroke="#333333" stroke-width="2"/>
<text transform="translate(915.30,640.3) rotate(-90) scale(1,1.035)" text-anchor="middle" font-size="22.2" fill="#000">dec-AUG</text>
<line x1="927.60" y1="581.0" x2="927.60" y2="586.0" stroke="#333333" stroke-width="2"/>
<text transform="translate(937.00,640.3) rotate(-90) scale(1,1.035)" text-anchor="middle" font-size="22.2" fill="#000">JAN-AUG</text>
<line x1="949.70" y1="581.0" x2="949.70" y2="586.0" stroke="#333333" stroke-width="2"/>
<text transform="translate(959.10,640.3) rotate(-90) scale(1,1.035)" text-anchor="middle" font-size="22.2" fill="#000">FEB-AUG</text>
<line x1="971.40" y1="581.0" x2="971.40" y2="586.0" stroke="#333333" stroke-width="2"/>
<text transform="translate(980.80,640.3) rotate(-90) scale(1,1.035)" text-anchor="middle" font-size="22.2" fill="#000">MAR-AUG</text>
<line x1="993.30" y1="581.0" x2="993.30" y2="586.0" stroke="#333333" stroke-width="2"/>
<text transform="translate(1002.70,640.3) rotate(-90) scale(1,1.035)" text-anchor="middle" font-size="22.2" fill="#000">APR-AUG</text>
<line x1="1015.30" y1="581.0" x2="1015.30" y2="586.0" stroke="#333333" stroke-width="2"/>
<text transform="translate(1024.70,640.3) rotate(-90) scale(1,1.035)" text-anchor="middle" font-size="22.2" fill="#000">MAY-AUG</text>
<line x1="1037.30" y1="581.0" x2="1037.30" y2="586.0" stroke="#333333" stroke-width="2"/>
<text transform="translate(1046.70,640.3) rotate(-90) scale(1,1.035)" text-anchor="middle" font-size="22.2" fill="#000">JUN-AUG</text>
<line x1="1062.0" y1="555.90" x2="1281.0" y2="555.90" stroke="#EBEBEB" stroke-width="1.7"/>
<line x1="1062.0" y1="496.70" x2="1281.0" y2="496.70" stroke="#EBEBEB" stroke-width="1.7"/>
<line x1="1062.0" y1="436.80" x2="1281.0" y2="436.80" stroke="#EBEBEB" stroke-width="1.7"/>
<line x1="1062.0" y1="376.60" x2="1281.0" y2="376.60" stroke="#EBEBEB" stroke-width="1.7"/>
<line x1="1062.0" y1="316.30" x2="1281.0" y2="316.30" stroke="#EBEBEB" stroke-width="1.7"/>
<line x1="1062.0" y1="256.10" x2="1281.0" y2="256.10" stroke="#EBEBEB" stroke-width="1.7"/>
<line x1="1062.0" y1="197.00" x2="1281.0" y2="197.00" stroke="#EBEBEB" stroke-width="1.7"/>
<line x1="1062.0" y1="137.00" x2="1281.0" y2="137.00" stroke="#EBEBEB" stroke-width="1.7"/>
<line x1="1062.0" y1="76.90" x2="1281.0" y2="76.90" stroke="#EBEBEB" stroke-width="1.7"/>
<line x1="1073.00" y1="60.5" x2="1073.00" y2="579.0" stroke="#EBEBEB" stroke-width="1.7"/>
<line x1="1094.60" y1="60.5" x2="1094.60" y2="579.0" stroke="#EBEBEB" stroke-width="1.7"/>
<line x1="1116.50" y1="60.5" x2="1116.50" y2="579.0" stroke="#EBEBEB" stroke-width="1.7"/>
<line x1="1138.50" y1="60.5" x2="1138.50" y2="579.0" stroke="#EBEBEB" stroke-width="1.7"/>
<line x1="1160.20" y1="60.5" x2="1160.20" y2="579.0" stroke="#EBEBEB" stroke-width="1.7"/>
<line x1="1182.20" y1="60.5" x2="1182.20" y2="579.0" stroke="#EBEBEB" stroke-width="1.7"/>
<line x1="1204.10" y1="60.5" x2="1204.10" y2="579.0" stroke="#EBEBEB" stroke-width="1.7"/>
<line x1="1226.30" y1="60.5" x2="1226.30" y2="579.0" stroke="#EBEBEB" stroke-width="1.7"/>
<line x1="1246.70" y1="60.5" x2="1246.70" y2="579.0" stroke="#EBEBEB" stroke-width="1.7"/>
<line x1="1268.70" y1="60.5" x2="1268.70" y2="579.0" stroke="#EBEBEB" stroke-width="1.7"/>
<polygon points="1074.68,212.10 1080.00,217.42 1080.00,221.98 1074.68,227.30 1070.12,227.30 1064.80,221.98 1064.80,217.42 1070.12,212.10" fill="#5EA1D0" stroke="#3D90CC" stroke-width="1.50"/>
<polygon points="1096.28,268.10 1101.60,273.42 1101.60,277.98 1096.28,283.30 1091.72,283.30 1086.40,277.98 1086.40,273.42 1091.72,268.10" fill="#5EA1D0" stroke="#3D90CC" stroke-width="1.50"/>
<polygon points="1118.18,293.00 1123.50,298.32 1123.50,302.88 1118.18,308.20 1113.62,308.20 1108.30,302.88 1108.30,298.32 1113.62,293.00" fill="#5EA1D0" stroke="#3D90CC" stroke-width="1.50"/>
<polygon points="1140.18,291.60 1145.50,296.92 1145.50,301.48 1140.18,306.80 1135.62,306.80 1130.30,301.48 1130.30,296.92 1135.62,291.60" fill="#5EA1D0" stroke="#3D90CC" stroke-width="1.50"/>
<polygon points="1161.88,289.00 1167.20,294.32 1167.20,298.88 1161.88,304.20 1157.32,304.20 1152.00,298.88 1152.00,294.32 1157.32,289.00" fill="#5EA1D0" stroke="#3D90CC" stroke-width="1.50"/>
<polygon points="1183.88,304.10 1189.20,309.42 1189.20,313.98 1183.88,319.30 1179.32,319.30 1174.00,313.98 1174.00,309.42 1179.32,304.10" fill="#5EA1D0" stroke="#3D90CC" stroke-width="1.50"/>
<polygon points="1205.78,323.30 1211.10,328.62 1211.10,333.18 1205.78,338.50 1201.22,338.50 1195.90,333.18 1195.90,328.62 1201.22,323.30" fill="#5EA1D0" stroke="#3D90CC" stroke-width="1.50"/>
<polygon points="1227.98,338.10 1233.30,343.42 1233.30,347.98 1227.98,353.30 1223.42,353.30 1218.10,347.98 1218.10,343.42 1223.42,338.10" fill="#5EA1D0" stroke="#3D90CC" stroke-width="1.50"/>
<polygon points="1248.38,329.80 1253.70,335.12 1253.70,339.68 1248.38,345.00 1243.82,345.00 1238.50,339.68 1238.50,335.12 1243.82,329.80" fill="#5EA1D0" stroke="#3D90CC" stroke-width="1.50"/>
<polygon points="1270.38,334.20 1275.70,339.52 1275.70,344.08 1270.38,349.40 1265.82,349.40 1260.50,344.08 1260.50,339.52 1265.82,334.20" fill="#5EA1D0" stroke="#3D90CC" stroke-width="1.50"/>
<polygon points="1074.68,231.90 1080.00,237.22 1080.00,241.78 1074.68,247.10 1070.12,247.10 1064.80,241.78 1064.80,237.22 1070.12,231.90" fill="#BA8DC9" stroke="#AC77C0" stroke-width="1.50"/>
<polygon points="1096.28,279.60 1101.60,284.92 1101.60,289.48 1096.28,294.80 1091.72,294.80 1086.40,289.48 1086.40,284.92 1091.72,279.60" fill="#BA8DC9" stroke="#AC77C0" stroke-width="1.50"/>
<polygon points="1118.18,254.90 1123.50,260.22 1123.50,264.78 1118.18,270.10 1113.62,270.10 1108.30,264.78 1108.30,260.22 1113.62,254.90" fill="#BA8DC9" stroke="#AC77C0" stroke-width="1.50"/>
<polygon points="1140.18,249.20 1145.50,254.52 1145.50,259.08 1140.18,264.40 1135.62,264.40 1130.30,259.08 1130.30,254.52 1135.62,249.20" fill="#BA8DC9" stroke="#AC77C0" stroke-width="1.50"/>
<polygon points="1161.88,250.80 1167.20,256.12 1167.20,260.68 1161.88,266.00 1157.32,266.00 1152.00,260.68 1152.00,256.12 1157.32,250.80" fill="#BA8DC9" stroke="#AC77C0" stroke-width="1.50"/>
<polygon points="1183.88,253.60 1189.20,258.92 1189.20,263.48 1183.88,268.80 1179.32,268.80 1174.00,263.48 1174.00,258.92 1179.32,253.60" fill="#BA8DC9" stroke="#AC77C0" stroke-width="1.50"/>
<polygon points="1205.78,258.20 1211.10,263.52 1211.10,268.08 1205.78,273.40 1201.22,273.40 1195.90,268.08 1195.90,263.52 1201.22,258.20" fill="#BA8DC9" stroke="#AC77C0" stroke-width="1.50"/>
<polygon points="1227.98,268.90 1233.30,274.22 1233.30,278.78 1227.98,284.10 1223.42,284.10 1218.10,278.78 1218.10,274.22 1223.42,268.90" fill="#BA8DC9" stroke="#AC77C0" stroke-width="1.50"/>
<polygon points="1248.38,253.30 1253.70,258.62 1253.70,263.18 1248.38,268.50 1243.82,268.50 1238.50,263.18 1238.50,258.62 1243.82,253.30" fill="#BA8DC9" stroke="#AC77C0" stroke-width="1.50"/>
<polygon points="1270.38,272.70 1275.70,278.02 1275.70,282.58 1270.38,287.90 1265.82,287.90 1260.50,282.58 1260.50,278.02 1265.82,272.70" fill="#BA8DC9" stroke="#AC77C0" stroke-width="1.50"/>
<polygon points="1074.68,217.60 1080.00,222.92 1080.00,227.48 1074.68,232.80 1070.12,232.80 1064.80,227.48 1064.80,222.92 1070.12,217.60" fill="#EA6B74" stroke="#E34A57" stroke-width="1.50"/>
<polygon points="1096.28,242.10 1101.60,247.42 1101.60,251.98 1096.28,257.30 1091.72,257.30 1086.40,251.98 1086.40,247.42 1091.72,242.10" fill="#EA6B74" stroke="#E34A57" stroke-width="1.50"/>
<polygon points="1118.18,223.20 1123.50,228.52 1123.50,233.08 1118.18,238.40 1113.62,238.40 1108.30,233.08 1108.30,228.52 1113.62,223.20" fill="#EA6B74" stroke="#E34A57" stroke-width="1.50"/>
<polygon points="1140.18,230.30 1145.50,235.62 1145.50,240.18 1140.18,245.50 1135.62,245.50 1130.30,240.18 1130.30,235.62 1135.62,230.30" fill="#EA6B74" stroke="#E34A57" stroke-width="1.50"/>
<polygon points="1161.88,242.30 1167.20,247.62 1167.20,252.18 1161.88,257.50 1157.32,257.50 1152.00,252.18 1152.00,247.62 1157.32,242.30" fill="#EA6B74" stroke="#E34A57" stroke-width="1.50"/>
<polygon points="1183.88,238.20 1189.20,243.52 1189.20,248.08 1183.88,253.40 1179.32,253.40 1174.00,248.08 1174.00,243.52 1179.32,238.20" fill="#EA6B74" stroke="#E34A57" stroke-width="1.50"/>
<polygon points="1205.78,252.00 1211.10,257.32 1211.10,261.88 1205.78,267.20 1201.22,267.20 1195.90,261.88 1195.90,257.32 1201.22,252.00" fill="#EA6B74" stroke="#E34A57" stroke-width="1.50"/>
<polygon points="1227.98,272.60 1233.30,277.92 1233.30,282.48 1227.98,287.80 1223.42,287.80 1218.10,282.48 1218.10,277.92 1223.42,272.60" fill="#EA6B74" stroke="#E34A57" stroke-width="1.50"/>
<polygon points="1248.38,276.70 1253.70,282.02 1253.70,286.58 1248.38,291.90 1243.82,291.90 1238.50,286.58 1238.50,282.02 1243.82,276.70" fill="#EA6B74" stroke="#E34A57" stroke-width="1.50"/>
<polygon points="1270.38,291.80 1275.70,297.12 1275.70,301.68 1270.38,307.00 1265.82,307.00 1260.50,301.68 1260.50,297.12 1265.82,291.80" fill="#EA6B74" stroke="#E34A57" stroke-width="1.50"/>
<rect x="1059.0" y="58.0" width="224.0" height="523.0" fill="none" stroke="#333333" stroke-width="2"/>
<rect x="1059.0" y="10.0" width="224.0" height="48.0" fill="#3C7D27" stroke="#333333" stroke-width="2"/>
<rect x="1060.5" y="11.5" width="221.0" height="45.0" fill="none" stroke="#4A9A30" stroke-width="1" opacity="0.8"/>
<text transform="translate(1169.60,42.8) scale(0.985,1)" text-anchor="middle" font-size="26" font-weight="bold" font-style="italic" fill="#000">ZSE</text>
<line x1="1073.00" y1="581.0" x2="1073.00" y2="586.0" stroke="#333333" stroke-width="2"/>
<text transform="translate(1081.70,640.3) rotate(-90) scale(1,1.035)" text-anchor="middle" font-size="22.2" fill="#000">sep-AUG</text>
<line x1="1094.60" y1="581.0" x2="1094.60" y2="586.0" stroke="#333333" stroke-width="2"/>
<text transform="translate(1103.50,640.3) rotate(-90) scale(1,1.035)" text-anchor="middle" font-size="22.2" fill="#000">oct-AUG</text>
<line x1="1116.50" y1="581.0" x2="1116.50" y2="586.0" stroke="#333333" stroke-width="2"/>
<text transform="translate(1125.50,640.3) rotate(-90) scale(1,1.035)" text-anchor="middle" font-size="22.2" fill="#000">nov-AUG</text>
<line x1="1138.50" y1="581.0" x2="1138.50" y2="586.0" stroke="#333333" stroke-width="2"/>
<text transform="translate(1147.20,640.3) rotate(-90) scale(1,1.035)" text-anchor="middle" font-size="22.2" fill="#000">dec-AUG</text>
<line x1="1160.20" y1="581.0" x2="1160.20" y2="586.0" stroke="#333333" stroke-width="2"/>
<text transform="translate(1168.90,640.3) rotate(-90) scale(1,1.035)" text-anchor="middle" font-size="22.2" fill="#000">JAN-AUG</text>
<line x1="1182.20" y1="581.0" x2="1182.20" y2="586.0" stroke="#333333" stroke-width="2"/>
<text transform="translate(1190.80,640.3) rotate(-90) scale(1,1.035)" text-anchor="middle" font-size="22.2" fill="#000">FEB-AUG</text>
<line x1="1204.10" y1="581.0" x2="1204.10" y2="586.0" stroke="#333333" stroke-width="2"/>
<text transform="translate(1212.50,640.3) rotate(-90) scale(1,1.035)" text-anchor="middle" font-size="22.2" fill="#000">MAR-AUG</text>
<line x1="1226.30" y1="581.0" x2="1226.30" y2="586.0" stroke="#333333" stroke-width="2"/>
<text transform="translate(1234.30,640.3) rotate(-90) scale(1,1.035)" text-anchor="middle" font-size="22.2" fill="#000">APR-AUG</text>
<line x1="1246.70" y1="581.0" x2="1246.70" y2="586.0" stroke="#333333" stroke-width="2"/>
<text transform="translate(1256.30,640.3) rotate(-90) scale(1,1.035)" text-anchor="middle" font-size="22.2" fill="#000">MAY-AUG</text>
<line x1="1268.70" y1="581.0" x2="1268.70" y2="586.0" stroke="#333333" stroke-width="2"/>
<text transform="translate(1277.60,640.3) rotate(-90) scale(1,1.035)" text-anchor="middle" font-size="22.2" fill="#000">JUN-AUG</text>
<line x1="123" y1="555.90" x2="128" y2="555.90" stroke="#333333" stroke-width="2"/>
<text x="119.1" y="567.50" text-anchor="end" font-size="29.7" fill="#000">0.0</text>
<line x1="123" y1="436.80" x2="128" y2="436.80" stroke="#333333" stroke-width="2"/>
<text x="119.1" y="448.40" text-anchor="end" font-size="29.7" fill="#000">0.2</text>
<line x1="123" y1="316.30" x2="128" y2="316.30" stroke="#333333" stroke-width="2"/>
<text x="119.1" y="327.90" text-anchor="end" font-size="29.7" fill="#000">0.4</text>
<line x1="123" y1="197.00" x2="128" y2="197.00" stroke="#333333" stroke-width="2"/>
<text x="119.1" y="208.60" text-anchor="end" font-size="29.7" fill="#000">0.6</text>
<line x1="123" y1="76.90" x2="128" y2="76.90" stroke="#333333" stroke-width="2"/>
<text x="119.1" y="88.50" text-anchor="end" font-size="29.7" fill="#000">0.8</text>
<text transform="translate(32.5,315.6) rotate(-90) scale(1,1.02)" text-anchor="middle" font-size="32.6" fill="#000">Correlation coefficient (r)</text>
<text transform="translate(704.2,721.1) scale(1,1.02)" text-anchor="middle" font-size="33.3" fill="#000">Month</text>
<text transform="translate(1311.0,243.3) scale(1,1.035)" font-size="32.9" fill="#000">Tree species</text>
<circle cx="1326.9" cy="277.30" r="7.45" fill="#EA6B74" stroke="#E34A57" stroke-width="1.5"/>
<text transform="translate(1358.6,289.00) scale(1,1.04)" font-size="27" font-style="italic" fill="#000">A. campestre</text>
<circle cx="1326.9" cy="308.55" r="7.45" fill="#F8A467" stroke="#F59050" stroke-width="1.5"/>
<text transform="translate(1358.6,320.25) scale(1,1.04)" font-size="27" font-style="italic" fill="#000">F. ornus</text>
<circle cx="1326.9" cy="339.80" r="7.45" fill="#5EA1D0" stroke="#3D90CC" stroke-width="1.5"/>
<text transform="translate(1358.6,351.50) scale(1,1.04)" font-size="27" font-style="italic" fill="#000">Q. cerris</text>
<circle cx="1326.9" cy="371.05" r="7.45" fill="#5DAE78" stroke="#3E9E5E" stroke-width="1.5"/>
<text transform="translate(1358.6,382.75) scale(1,1.04)" font-size="27" font-style="italic" fill="#000">Q. pubescens</text>
<circle cx="1326.9" cy="402.30" r="7.45" fill="#BA8DC9" stroke="#AC77C0" stroke-width="1.5"/>
<text transform="translate(1358.6,414.00) scale(1,1.04)" font-size="27" font-style="italic" fill="#000">T. tomentosa</text>
</svg></body></html>
